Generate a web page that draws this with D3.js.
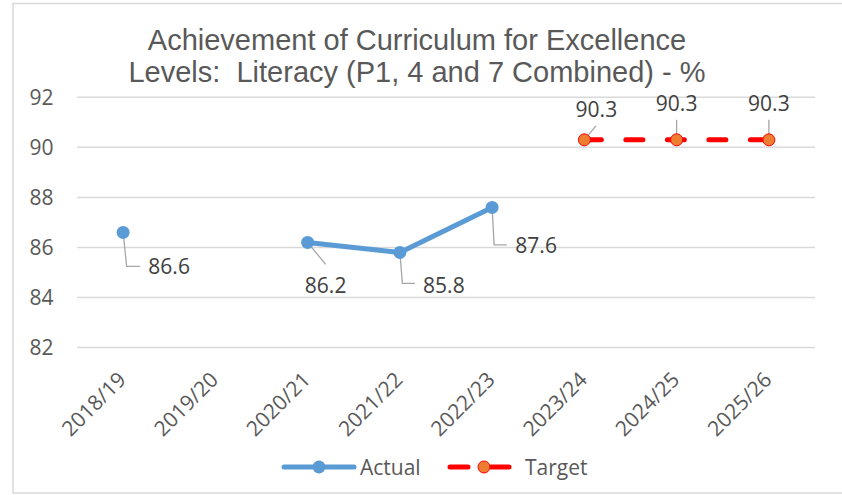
<!DOCTYPE html>
<html>
<head>
  <meta charset="utf-8">
  <title>CfE Literacy</title>
  <style type="text/css">
    body {
      margin: 0;
      background-color: #fff;
    }
    svg {
      display: block;
    }
    text {
      font-family: "Open Sans", sans-serif;
    }
    .title {
      font-family: "Liberation Sans", Arial, sans-serif;
      font-size: 29px;
      fill: #595959;
      white-space: pre;
    }
    .tick-label {
      font-size: 21px;
      fill: #595959;
    }
    .data-label {
      font-size: 21px;
      fill: #404040;
    }
  </style>
  <script src="https://d3js.org/d3.v7.min.js"></script>
</head>
<body>
<script>
// chart values
var years = ["2018/19", "2019/20", "2020/21", "2021/22", "2022/23", "2023/24", "2024/25", "2025/26"];
var actual = [86.6, null, 86.2, 85.8, 87.6, null, null, null];
var target = [null, null, null, null, null, 90.3, 90.3, 90.3];
var yTicks = [82, 84, 86, 88, 90, 92];
var titleLines = ["Achievement of Curriculum for Excellence", "Levels:  Literacy (P1, 4 and 7 Combined) - %"];
var seriesNames = ["Actual", "Target"];

var W = 842, H = 495;
var blue = "#5B9BD5", red = "#FF0000", orange = "#ED7D31", grid = "#D9D9D9";

// where each data label sits relative to its point (dx, dy of text centre) + leader line
var labelPos = [
  {dx: 46, dy: 34, leader: [[0, 0], [3.5, 34], [17, 34]]},
  null,
  {dx: 18, dy: 43, leader: [[0, 0], [18, 22]]},
  {dx: 44, dy: 33, leader: [[0, 0], [2.5, 31], [15, 31]]},
  {dx: 44, dy: 38, leader: [[0, 0], [2, 37.5], [14.5, 37.5]]},
  {dx: 12, dy: -31, leader: [[0, 0], [11.5, -14]]},
  {dx: 0, dy: -37, leader: [[0, 0], [0, -20]]},
  {dx: 0, dy: -37, leader: [[0, 0], [0, -20]]}
];

var svg = d3.select("body").append("svg")
  .attr("width", W)
  .attr("height", H);

// chart frame
svg.append("rect")
  .attr("x", 13).attr("y", 3.5)
  .attr("width", W + 10).attr("height", 489.5)
  .attr("fill", "none")
  .attr("stroke", grid)
  .attr("stroke-width", 1.5);

// title
svg.append("g").selectAll("text")
  .data(titleLines)
  .enter().append("text")
    .attr("class", "title")
    .attr("x", 417)
    .attr("y", function(d, i) { return 49.5 + i * 32.3; })
    .attr("text-anchor", "middle")
    .text(function(d) { return d; });

var x = d3.scaleBand()
  .domain(years)
  .range([77, 815]);

var y = d3.scaleLinear()
  .domain([82, 92])
  .range([347.5, 97.3]);

function cx(i) { return x(years[i]) + x.bandwidth() / 2; }

// gridlines
svg.append("g").selectAll("line")
  .data(yTicks)
  .enter().append("line")
    .attr("x1", 77).attr("x2", 815)
    .attr("y1", function(d) { return y(d); })
    .attr("y2", function(d) { return y(d); })
    .attr("stroke", grid)
    .attr("stroke-width", 1.5);

// y axis labels
var yaxis = d3.axisLeft(y).tickValues(yTicks).tickSize(0).tickPadding(0);
var yg = svg.append("g")
  .attr("transform", "translate(53.5,0)")
  .call(yaxis);
yg.select(".domain").remove();
yg.attr("font-family", null).attr("font-size", null);
yg.selectAll("text")
  .attr("class", "tick-label")
  .attr("dy", "0.35em");

// x axis labels (rotated)
var xaxis = d3.axisBottom(x).tickSize(0).tickPadding(0);
var xg = svg.append("g")
  .attr("transform", "translate(0,381)")
  .call(xaxis);
xg.select(".domain").remove();
xg.attr("font-family", null).attr("font-size", null);
xg.selectAll("text")
  .attr("class", "tick-label")
  .attr("y", 0)
  .attr("dy", 0)
  .attr("text-anchor", "end")
  .attr("transform", "translate(4,0) rotate(-45)");

// actual line
var lineGen = d3.line()
  .defined(function(d) { return d != null; })
  .x(function(d, i) { return cx(i); })
  .y(function(d) { return y(d); });

svg.append("path")
  .datum(actual)
  .attr("d", lineGen)
  .attr("fill", "none")
  .attr("stroke", blue)
  .attr("stroke-width", 5)
  .attr("stroke-linejoin", "round");

// target line (dashed)
svg.append("path")
  .datum(target)
  .attr("d", lineGen)
  .attr("fill", "none")
  .attr("stroke", red)
  .attr("stroke-width", 5)
  .attr("stroke-linecap", "round")
  .attr("stroke-dasharray", "17,24.5");

// leader lines
var leaderGen = d3.line();
function pointData(values) {
  return values.map(function(v, i) { return {v: v, i: i}; })
    .filter(function(d) { return d.v != null; });
}
var allPts = pointData(actual).concat(pointData(target));

svg.append("g").selectAll("path")
  .data(allPts)
  .enter().append("path")
    .attr("d", function(d) {
      var px = cx(d.i), py = y(d.v);
      return leaderGen(labelPos[d.i].leader.map(function(p) { return [px + p[0], py + p[1]]; }));
    })
    .attr("fill", "none")
    .attr("stroke", "#A6A6A6")
    .attr("stroke-width", 1.3);

// markers
svg.append("g").selectAll("circle")
  .data(pointData(actual))
  .enter().append("circle")
    .attr("cx", function(d) { return cx(d.i); })
    .attr("cy", function(d) { return y(d.v); })
    .attr("r", 6.5)
    .attr("fill", blue);

svg.append("g").selectAll("circle")
  .data(pointData(target))
  .enter().append("circle")
    .attr("cx", function(d) { return cx(d.i); })
    .attr("cy", function(d) { return y(d.v); })
    .attr("r", 6)
    .attr("fill", orange)
    .attr("stroke", red)
    .attr("stroke-width", 1);

// data labels
svg.append("g").selectAll("text")
  .data(allPts)
  .enter().append("text")
    .attr("class", "data-label")
    .attr("x", function(d) { return cx(d.i) + labelPos[d.i].dx; })
    .attr("y", function(d) { return y(d.v) + labelPos[d.i].dy; })
    .attr("text-anchor", "middle")
    .attr("dominant-baseline", "central")
    .text(function(d) { return d.v.toFixed(1); });

// legend
var legend = svg.append("g").attr("transform", "translate(0,467)");
var la = legend.append("g");
la.append("line")
  .attr("x1", 284).attr("x2", 354)
  .attr("stroke", blue).attr("stroke-width", 5).attr("stroke-linecap", "round");
la.append("circle").attr("cx", 319).attr("r", 6.5).attr("fill", blue);
la.append("text").attr("class", "tick-label").attr("x", 360)
  .attr("dominant-baseline", "central").text(seriesNames[0]);

var lt = legend.append("g");
lt.append("line")
  .attr("x1", 450).attr("x2", 511)
  .attr("stroke", red).attr("stroke-width", 5).attr("stroke-linecap", "round")
  .attr("stroke-dasharray", "18,23");
lt.append("circle").attr("cx", 484).attr("r", 6).attr("fill", orange)
  .attr("stroke", red).attr("stroke-width", 1);
lt.append("text").attr("class", "tick-label").attr("x", 525)
  .attr("dominant-baseline", "central").text(seriesNames[1]);
</script>
</body>
</html>
